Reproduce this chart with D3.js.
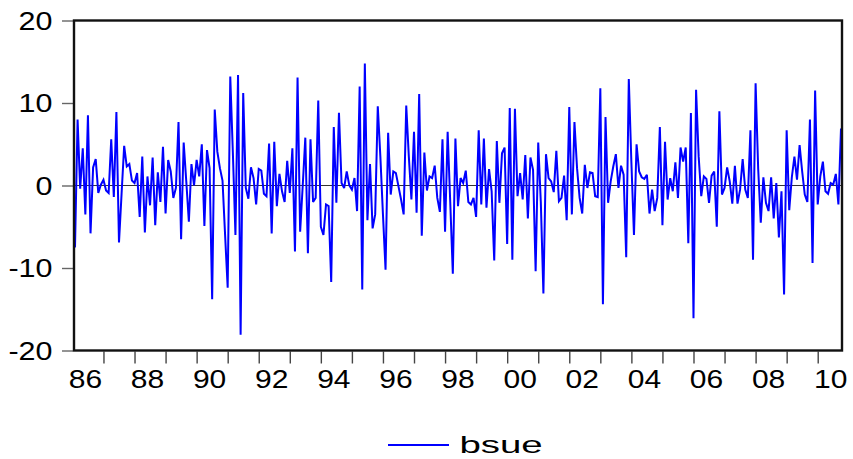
<!DOCTYPE html>
<html>
<head>
<meta charset="utf-8">
<script src="https://cdn.jsdelivr.net/npm/d3@7/dist/d3.min.js"></script>
<style>
  html, body { margin: 0; padding: 0; background: #fff; }
  svg { display: block; }
  text { font-family: "Liberation Sans", Arial, Helvetica, sans-serif; fill: #000; }
</style>
</head>
<body>
<svg id="chart" width="853" height="459"></svg>
<script>
// Monthly series, first observation 1986M2
const startYear = 1986;
const startMonth = 2;
const seriesName = "bsue";
const bsue = [
  -7.5, 8.0, -0.4, 4.5, -3.5, 8.5, -5.8, 2.2, 3.2, -0.9, 0.1, 0.7,
  -0.6, -0.9, 5.6, -1.4, 8.9, -6.9, -1.0, 4.8, 2.3, 2.6, 0.6, 0.3,
  1.5, -3.8, 3.5, -5.7, 1.1, -2.4, 3.4, -4.8, 1.6, -2.0, 4.7, -3.4,
  3.1, 1.7, -1.5, -0.3, 7.7, -6.5, 5.2, 0.5, -4.4, 2.6, 0.0, 3.1,
  1.1, 5.0, -4.9, 4.3, 2.1, -13.8, 9.2, 4.1, 2.1, 0.6, -6.0, -12.4,
  13.2, 4.0, -6.0, 13.4, -18.1, 11.2, -0.3, -1.6, 2.2, 0.9, -2.3, 2.0,
  1.8, -1.0, -1.3, 5.1, -5.8, 5.3, -2.5, 1.4, -0.7, -2.0, 3.0, -0.9,
  4.5, -8.0, 13.1, -5.6, 0.0, 5.8, -8.2, 5.6, -2.0, -1.5, 10.3, -5.0,
  -6.0, -2.3, -2.5, -11.7, 7.1, -2.1, 8.8, 0.3, -0.3, 1.7, 0.0, -0.5,
  0.9, -3.1, 12.0, -12.6, 14.8, -4.2, 2.6, -5.2, -3.5, 9.6, 3.5, -3.5,
  -10.2, 6.4, -1.1, 1.7, 1.5, -0.1, -1.7, -3.5, 9.7, 3.5, -1.7, 6.5,
  -3.3, 11.1, -6.1, 4.0, -0.6, 1.1, 0.9, 2.4, -1.5, -3.2, 5.6, -5.6,
  6.5, -2.0, -10.7, 5.7, -2.5, 0.9, 0.3, 1.8, -2.0, -2.3, -1.5, -3.8,
  6.7, -2.3, 5.7, -2.7, 2.0, -0.7, -9.1, 5.4, -2.1, 3.9, 4.6, -7.1,
  9.4, -9.0, 9.3, -1.3, 1.5, -1.7, 3.7, -4.0, 3.4, 1.9, -10.4, 5.2,
  -2.0, -13.1, 3.8, 0.9, 0.5, -0.8, 4.2, -1.9, -1.5, 1.2, -4.2, 9.5,
  -3.5, 7.7, 2.1, -1.5, -3.4, 2.5, -0.3, 1.6, 1.5, -1.3, -1.4, 11.8,
  -14.4, 8.3, -2.1, 0.5, 2.3, 3.8, -0.3, 2.4, 1.3, -8.7, 12.9, 2.8,
  -6.0, 5.0, 1.7, 1.0, 0.8, 1.3, -3.4, -0.5, -3.1, -1.5, 7.1, -4.8,
  5.3, -1.7, 0.9, -0.7, 2.8, -1.5, 4.6, 2.9, 4.6, -7.0, 8.8, -16.1,
  11.6, 3.5, -1.3, 1.1, 0.8, -2.1, 1.2, 1.7, -5.0, 9.0, -1.1, -0.3,
  2.2, 0.5, -2.2, 2.4, -2.2, -0.5, 3.2, -0.5, -1.5, 6.7, -9.0, 12.4,
  2.0, -4.5, 1.0, -2.1, -3.1, 1.0, -4.0, 0.3, -6.3, -0.7, -13.2, 6.7,
  -3.0, 1.0, 3.5, 0.7, 4.9, 1.7, -1.1, -2.0, 8.0, -9.4, 11.5, -2.3,
  1.1, 2.9, -0.7, -1.0, 0.3, 0.1, 1.4, -2.3, 6.9
];
const yTicks = [-20, -10, 0, 10, 20];
const yearLabels = ["86", "88", "90", "92", "94", "96", "98", "00", "02", "04", "06", "08", "10"];

const svg = d3.select("#chart");
const frame = { left: 74, right: 842, top: 20.5, bottom: 350.5 };

const x = d3.scaleLinear().domain([0, bsue.length - 1]).range([75, 841]);
const y = d3.scaleLinear().domain([-20, 20]).range([frame.bottom, frame.top]);

// observation index of January of a given year
const janIndex = yr => (yr - startYear) * 12 + (1 - startMonth);
const lastYear = startYear + Math.floor((startMonth - 1 + bsue.length - 1) / 12);
const tickYears = d3.range(startYear + 1, lastYear + 1);

// y axis ticks
const yAxis = d3.axisLeft(y).tickValues(yTicks).tickSize(11).tickFormat("");
svg.append("g")
  .attr("transform", `translate(${frame.left - 1},0)`)
  .call(yAxis)
  .call(g => g.select(".domain").remove())
  .call(g => g.selectAll(".tick line").attr("stroke", "#666").attr("stroke-width", 1.4));

// x axis ticks at each January
const xAxis = d3.axisBottom(x).tickValues(tickYears.map(janIndex)).tickSize(12).tickFormat("");
svg.append("g")
  .attr("transform", `translate(0,${frame.bottom + 1})`)
  .call(xAxis)
  .call(g => g.select(".domain").remove())
  .call(g => g.selectAll(".tick line").attr("stroke", "#444").attr("stroke-width", 1.4));

// y tick labels
svg.append("g").selectAll("text")
  .data(yTicks)
  .join("text")
  .attr("transform", d => `translate(52.5,${y(d) + 9}) scale(1.22,1)`)
  .attr("text-anchor", "end")
  .attr("font-size", 25)
  .text(d => d);

// year labels, centred a little left of the middle of each year
svg.append("g").selectAll("text")
  .data(yearLabels)
  .join("text")
  .attr("transform", (d, i) => {
    const yr = startYear + 2 * i;
    return `translate(${x(janIndex(yr)) + 13},388.3) scale(1.2,1)`;
  })
  .attr("text-anchor", "middle")
  .attr("font-size", 25)
  .text(d => d);

// zero reference line
svg.append("line")
  .attr("x1", frame.left).attr("x2", frame.right)
  .attr("y1", y(0)).attr("y2", y(0))
  .attr("stroke", "#333").attr("stroke-width", 1);

// series line
const line = d3.line().x((d, i) => x(i)).y(d => y(d));
svg.append("path")
  .datum(bsue)
  .attr("d", line)
  .attr("fill", "none")
  .attr("stroke", "#0000ff")
  .attr("stroke-width", 2)
  .attr("stroke-linejoin", "miter")
  .attr("stroke-miterlimit", 3);

// plot frame
svg.append("rect")
  .attr("x", frame.left).attr("y", frame.top)
  .attr("width", frame.right - frame.left).attr("height", frame.bottom - frame.top)
  .attr("fill", "none").attr("stroke", "#111").attr("stroke-width", 2.4);

// legend
const legend = svg.append("g");
legend.append("line")
  .attr("x1", 388).attr("x2", 449).attr("y1", 445).attr("y2", 445)
  .attr("stroke", "#0000ff").attr("stroke-width", 2);
legend.append("text")
  .attr("transform", "translate(459.5,452.7) scale(1.6,1)")
  .attr("font-size", 24)
  .text(seriesName);
</script>
</body>
</html>
